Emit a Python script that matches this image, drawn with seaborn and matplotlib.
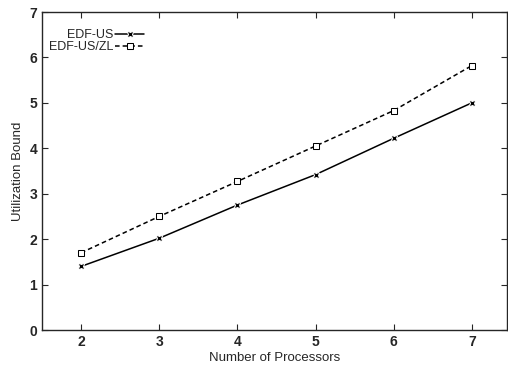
import pandas as pd
import seaborn as sns
import matplotlib.pyplot as plt

processors = [2, 3, 4, 5, 6, 7]
edf_us = [1.40, 2.02, 2.75, 3.42, 4.22, 5.00]
edf_us_zl = [1.70, 2.50, 3.27, 4.05, 4.83, 5.82]

df = pd.DataFrame({
    'Number of Processors': processors * 2,
    'Utilization Bound': edf_us + edf_us_zl,
    'Algorithm': ['EDF-US'] * 6 + ['EDF-US/ZL'] * 6,
})

sns.set_style('ticks')
plt.rcParams['font.family'] = ['Liberation Sans', 'DejaVu Sans']

fig = plt.figure(figsize=(5.08, 3.68), dpi=100)
ax = fig.add_axes([42 / 508, 38 / 368, 465 / 508, 318 / 368])

sns.lineplot(data=df, x='Number of Processors', y='Utilization Bound',
             hue='Algorithm', style='Algorithm',
             palette=['black', 'black'],
             dashes={'EDF-US': '', 'EDF-US/ZL': (3, 2)},
             markers={'EDF-US': 'X', 'EDF-US/ZL': 's'},
             markersize=5, linewidth=1.1, ax=ax)

for line in ax.lines:
    if line.get_marker() == 's':
        line.set_markerfacecolor('white')
        line.set_markeredgecolor('black')
        line.set_markersize(4.5)

ax.set_xlim(1.5, 7.45)
ax.set_ylim(0, 7)
ax.set_xticks(processors)
ax.set_yticks(range(0, 8))
ax.tick_params(direction='in', top=True, right=True, labelsize=10, length=4)
for lab in ax.get_xticklabels() + ax.get_yticklabels():
    lab.set_fontweight('bold')
for s in ax.spines.values():
    s.set_linewidth(1.0)
ax.set_xlabel('Number of Processors', fontsize=9.5, labelpad=2)
ax.set_ylabel('Utilization Bound', fontsize=9.5, labelpad=4)

leg = ax.legend(loc='upper left', bbox_to_anchor=(0.0, 0.97), markerfirst=False,
                frameon=False, fontsize=9, handlelength=2.3, handletextpad=0.1,
                labelspacing=0.0, borderaxespad=0.2)

fig.savefig('out.png', dpi=100)
